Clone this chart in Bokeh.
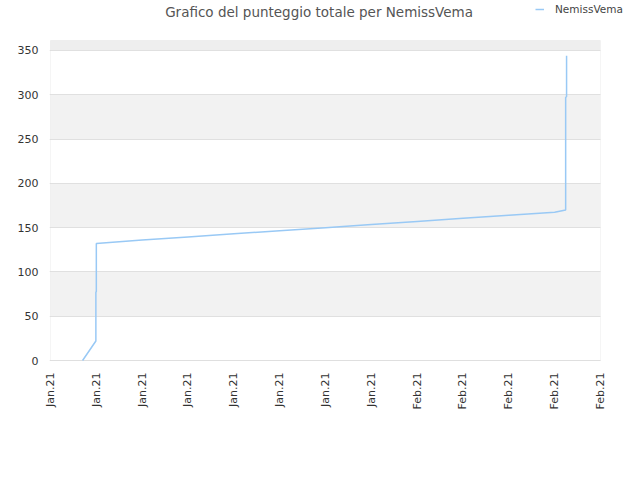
from math import pi

from bokeh.plotting import figure
from bokeh.models import (Legend, LegendItem, BoxAnnotation, FixedTicker,
                          Range1d, Label)
from bokeh.embed import file_html
from bokeh.resources import INLINE

# Data (x in tick steps, y = total score)
day_pos = [0.70, 0.99, 0.99, 1.00, 1.00, 2.0, 3.0, 4.0, 5.0, 6.0, 7.0,
           8.0, 9.0, 10.0, 11.0, 11.24, 11.24, 11.26, 11.26]
score = [0, 22, 77, 78, 132, 136, 139.5, 143, 146.5, 150, 153.5,
         157, 160.5, 164, 167.5, 170, 297, 298, 344]

tick_labels = ["Jan.21", "Jan.21", "Jan.21", "Jan.21", "Jan.21", "Jan.21",
               "Jan.21", "Jan.21", "Feb.21", "Feb.21", "Feb.21", "Feb.21",
               "Feb.21"]
y_ticks = [0, 50, 100, 150, 200, 250, 300, 350]
x_last = 12            # right edge of the visible plot box
y_top = 361.3          # top of the visible plot box
title_text = "Grafico del punteggio totale per NemissVema"

font = "DejaVu Sans"

# the frame reaches the top/right of the canvas so that title and legend can
# sit in it; the visible plot box is drawn with annotations
p = figure(width=640, height=464, output_backend="svg", toolbar_location=None,
           title_location=None,
           x_range=Range1d(-0.0218, 12.873), y_range=Range1d(-1.129, 406.45),
           min_border_left=49, min_border_right=0, min_border_top=0,
           min_border_bottom=103)

p.outline_line_color = None
p.background_fill_color = "white"

p.xgrid.grid_line_color = None
p.ygrid.grid_line_color = "#e0e0e0"

# alternating grey bands (every second interval, plus the strip above 350)
for lo, hi in zip(y_ticks[1::2], y_ticks[2::2]):
    p.add_layout(BoxAnnotation(left=0, right=x_last, bottom=lo, top=hi,
                               fill_color="#f2f2f2", fill_alpha=1.0,
                               line_color=None, level="image"))
p.add_layout(BoxAnnotation(left=0, right=x_last, bottom=y_ticks[-1], top=y_top,
                           fill_color="#eeeeee", fill_alpha=1.0,
                           line_color=None, level="image"))
# hide the grid lines right of the plot box
p.add_layout(BoxAnnotation(left=x_last, fill_color="white", fill_alpha=1.0,
                           line_color=None, level="underlay"))
p.add_layout(BoxAnnotation(left=0, right=x_last, bottom=0, top=y_top,
                           fill_color=None, line_color="#dddddd",
                           line_width=1, level="underlay"))

p.xaxis.ticker = FixedTicker(ticks=list(range(len(tick_labels))))
p.xaxis.major_label_overrides = {i: t for i, t in enumerate(tick_labels)}
p.xaxis.major_label_orientation = pi / 2
p.yaxis.ticker = FixedTicker(ticks=y_ticks)

for ax in (p.xaxis[0], p.yaxis[0]):
    ax.axis_line_color = None
    ax.major_tick_line_color = None
    ax.minor_tick_line_color = None
    ax.major_label_text_font = font
    ax.major_label_text_font_size = "11px"
    ax.major_label_text_color = "#333333"
    ax.major_label_standoff = 5

r = p.line(day_pos, score, line_color="#99c9f5", line_width=1.5)

p.add_layout(Label(x=5.86, y=393, text=title_text, text_align="center",
                   text_baseline="middle", text_font=font,
                   text_font_size="13.5px", text_color="#555555"))

legend = Legend(items=[LegendItem(label="NemissVema", renderers=[r])],
                location=(486, 342), orientation="horizontal",
                background_fill_alpha=0, border_line_color=None,
                label_text_font=font, label_text_font_size="10.5px",
                glyph_width=9, label_standoff=11, padding=0, margin=0)
p.add_layout(legend, "center")

open("out.html", "w").write(file_html(p, INLINE))
